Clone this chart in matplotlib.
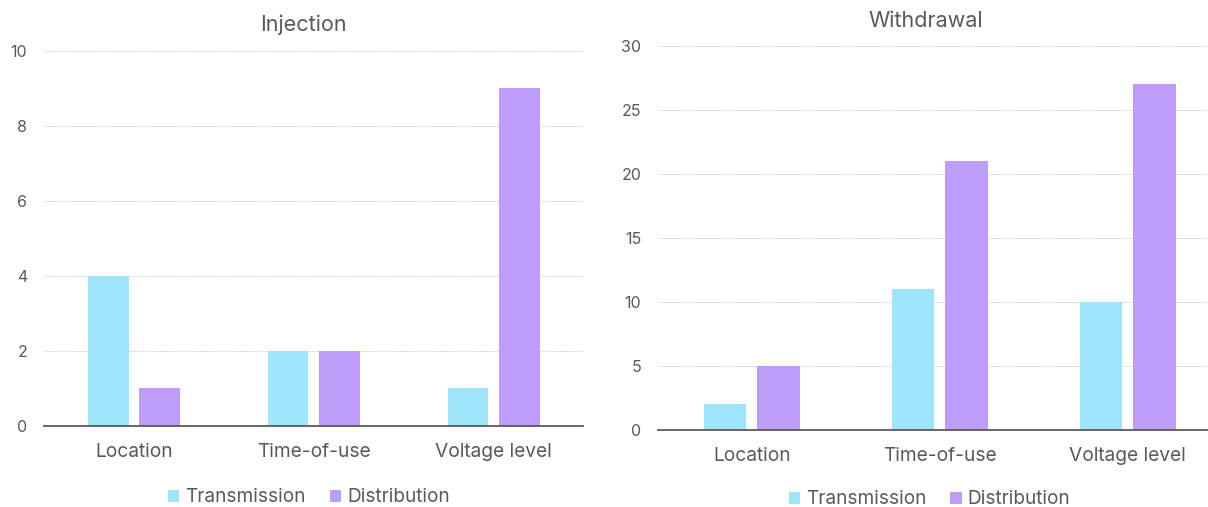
import matplotlib
matplotlib.use("Agg")
import matplotlib.pyplot as plt
import numpy as np
from matplotlib.patches import Patch

plt.rcParams['font.family'] = ['Inter', 'DejaVu Sans']

categories = ["Location", "Time-of-use", "Voltage level"]
series_names = ["Transmission", "Distribution"]
injection_transmission = [4, 2, 1]
injection_distribution = [1, 2, 9]
withdrawal_transmission = [2, 11, 10]
withdrawal_distribution = [5, 21, 27]
injection_ticks = [0, 2, 4, 6, 8, 10]
withdrawal_ticks = [0, 5, 10, 15, 20, 25, 30]

colors = ["#9de5fa", "#bd9cfa"]
text_color = "#595959"

W, H = 1208, 507
fig = plt.figure(figsize=(W / 100, H / 100), dpi=100)


def px_axes(x0, y0, x1, y1):
    return fig.add_axes([x0 / W, 1 - y1 / H, (x1 - x0) / W, (y1 - y0) / H])


def draw_panel(ax, title, title_pos, trans, dist, ticks, xlim, legend_center):
    x = np.arange(len(categories))
    width = 0.226
    off = 0.1425
    ax.bar(x - off, trans, width, color=colors[0], zorder=3)
    ax.bar(x + off, dist, width, color=colors[1], zorder=3)
    ax.set_xlim(*xlim)
    ax.set_ylim(ticks[0], ticks[-1])
    ax.set_yticks(ticks)
    ax.set_xticks(x)
    ax.set_xticklabels(categories)
    ax.tick_params(axis='x', length=0, pad=12.5, labelsize=13.8, labelcolor=text_color)
    ax.tick_params(axis='y', length=0, pad=12, labelsize=11.5, labelcolor=text_color)
    ax.grid(axis='y', color="#d0d0d0", linestyle=(0, (2, 1)), linewidth=0.6, zorder=0)
    for s in ("top", "right", "left"):
        ax.spines[s].set_visible(False)
    ax.spines["bottom"].set_color("#595959")
    ax.spines["bottom"].set_linewidth(1.3)
    ax.spines["bottom"].set_zorder(4)
    fig.text(title_pos[0] / W, 1 - title_pos[1] / H, title, fontsize=15.5,
             color=text_color, ha="center", va="center")
    handles = [Patch(facecolor=c, edgecolor='none') for c in colors]
    ax.legend(handles, series_names, loc="center", bbox_to_anchor=legend_center,
              bbox_transform=fig.transFigure, ncol=2, frameon=False,
              fontsize=13.7, labelcolor=text_color, handlelength=0.6,
              handleheight=0.6, handletextpad=0.32, columnspacing=1.26)


ax1 = px_axes(44, 51, 583.5, 425.7)
draw_panel(ax1, "Injection", (303, 25), injection_transmission, injection_distribution,
           injection_ticks, (-0.5, 2.5), (309 / W, 1 - 497.5 / H))

ax2 = px_axes(658, 46, 1208, 430)
draw_panel(ax2, "Withdrawal", (925.5, 21), withdrawal_transmission, withdrawal_distribution,
           withdrawal_ticks, (-0.5, 2.427), (929.5 / W, 1 - 499.5 / H))

fig.savefig("out.png", dpi=100)
